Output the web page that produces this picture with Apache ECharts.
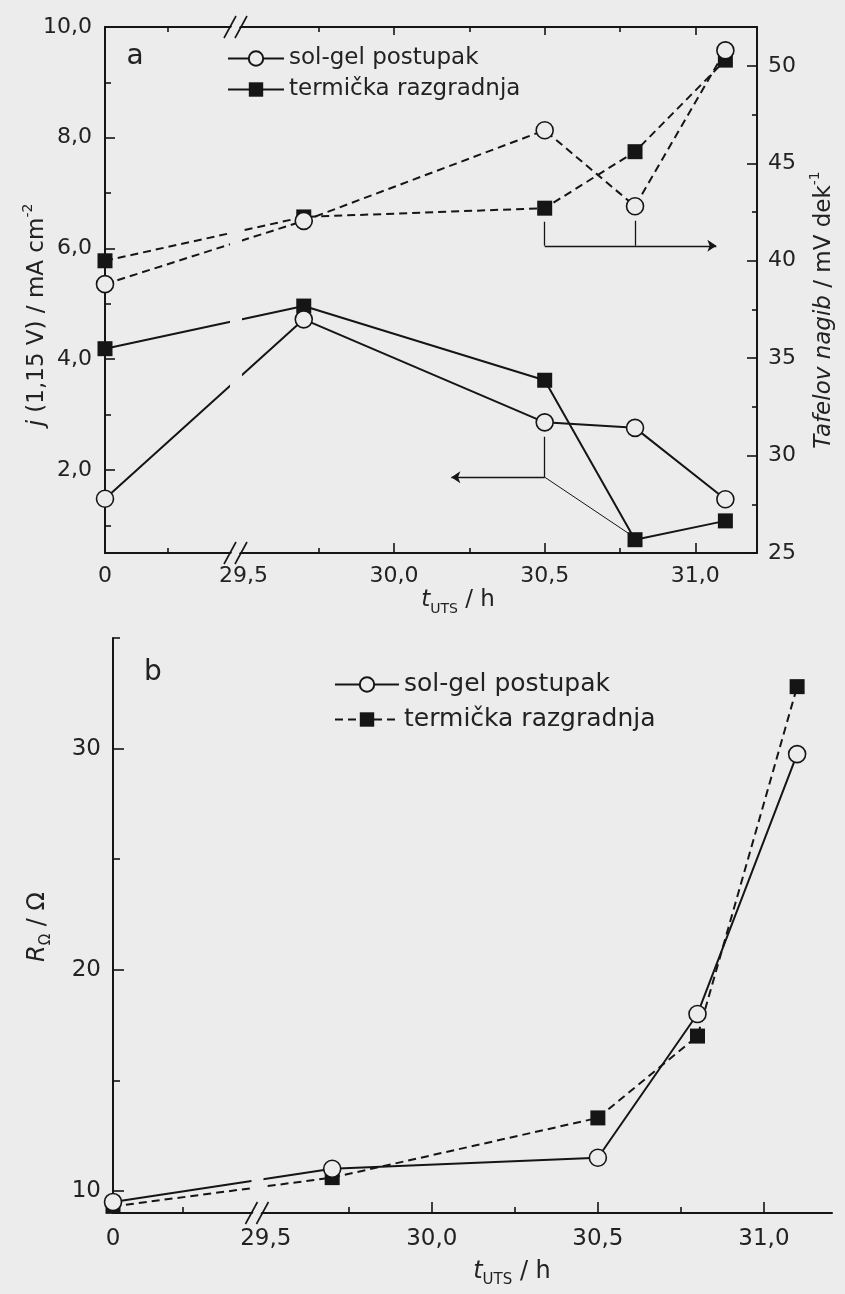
<!DOCTYPE html>
<html><head><meta charset="utf-8">
<script src="https://cdn.jsdelivr.net/npm/echarts@6/dist/echarts.min.js"></script>
<style>html,body{margin:0;padding:0;background:#ececec;}#c{width:845px;height:1294px;}</style>
</head><body><div id="c"></div>
<script>
// ---------------- data ----------------
const timeHours = [0, 29.7, 30.5, 30.8, 31.1];            // t_UTS / h (0 = before test)
const xLabelHours = [0, 29.5, 30.0, 30.5, 31.0];
const xTickLabels = ['0', '29,5', '30,0', '30,5', '31,0'];
const xMajorTicks = [30.0, 30.5, 31.0];
const xMinorTicks = [29.25, 29.75, 30.25, 30.75];

// panel a: current density j(1,15 V) / mA cm-2 (left axis)
const currentSolGel  = [1.48, 4.72, 2.86, 2.76, 1.47];
const currentThermal = [4.19, 4.96, 3.62, 0.74, 1.08];
// panel a: Tafel slope / mV dek-1 (right axis)
const tafelSolGel  = [38.8, 42.05, 46.7, 42.8, 50.8];
const tafelThermal = [40.0, 42.25, 42.7, 45.6, 50.3];
// panel b: ohmic resistance R_Omega / Ohm
const resistSolGel  = [9.5, 11.0, 11.5, 18.0, 29.75];
const resistThermal = [9.3, 10.6, 13.3, 17.0, 32.8];

const jMajorTicks = [2, 4, 6, 8, 10];
const jMinorTicks = [1, 3, 5, 7, 9];
const tafelMajorTicks = [25, 30, 35, 40, 45, 50];
const tafelMinorTicks = [27.5, 32.5, 37.5, 42.5, 47.5];
const rMajorTicks = [10, 20, 30];
const rMinorTicks = [15, 25, 35];

// annotation arrows (data space): [x1, y1, x2, y2]
const tafelGuideSegments = [[30.5, 42.0, 30.5, 40.77], [30.8, 42.05, 30.8, 40.77]];
const tafelGuideArrow    = [[30.5, 40.77, 31.07, 40.77]];
const currentGuideSegments = [[30.5, 2.6, 30.5, 1.87]];
const currentGuideThin     = [[30.5, 1.87, 30.785, 0.83]];
const currentGuideArrow    = [[30.5, 1.87, 30.19, 1.87]];

const legendNames = ['sol-gel postupak', 'termička razgradnja'];

// ---------------- scales / style ----------------
const ZERO_AXIS = 29.04;   // where t = 0 sits on the broken axis
const X_MAX = 31.205;
const BREAK_AT = 29.475;
const J_MIN = 0.5, J_MAX = 10;
const T_MIN = 25, T_MAX = 52.0;
const R_MIN = 9, R_MAX = 35;

const BG = '#ececec', INK = '#151515', TXT = '#222';
const FONT = '"DejaVu Sans", "Liberation Sans", sans-serif';

const toAxis = h => (h === 0 ? ZERO_AXIS : h);
const pts = ys => timeHours.map((h, i) => [toAxis(h), ys[i]]);
const xLabelPos = xLabelHours.map(toAxis);
const xFmt = v => { const i = xLabelPos.findIndex(p => Math.abs(p - v) < 1e-6); return i >= 0 ? xTickLabels[i] : ''; };

function axis(o) {
  return {
    type: 'value', gridIndex: o.grid, position: o.pos, min: o.min, max: o.max,
    splitLine: { show: false },
    axisLine: { show: !!o.line, onZero: false, lineStyle: { color: INK, width: 2 } },
    axisTick: { show: true, inside: true, length: o.len, customValues: o.ticks, lineStyle: { color: INK, width: 1.6 } },
    axisLabel: o.labels ? { show: true, customValues: o.labels, formatter: o.fmt, margin: o.margin,
      fontSize: o.fs, color: TXT, fontFamily: FONT } : { show: false },
    axisPointer: { show: false }
  };
}

const xAxes = [
  axis({ grid: 0, pos: 'bottom', min: ZERO_AXIS, max: X_MAX, line: true, len: 10, ticks: xMajorTicks, labels: xLabelPos, fmt: xFmt, margin: 12, fs: 22 }),
  axis({ grid: 0, pos: 'bottom', min: ZERO_AXIS, max: X_MAX, len: 5, ticks: xMinorTicks }),
  axis({ grid: 0, pos: 'top', min: ZERO_AXIS, max: X_MAX, line: true, len: 8, ticks: xMajorTicks }),
  axis({ grid: 0, pos: 'top', min: ZERO_AXIS, max: X_MAX, len: 5, ticks: xMinorTicks }),
  axis({ grid: 1, pos: 'bottom', min: ZERO_AXIS, max: X_MAX, line: true, len: 11, ticks: xMajorTicks, labels: xLabelPos, fmt: xFmt, margin: 15, fs: 23 }),
  axis({ grid: 1, pos: 'bottom', min: ZERO_AXIS, max: X_MAX, len: 6, ticks: xMinorTicks })
];
const yAxes = [
  axis({ grid: 0, pos: 'left', min: J_MIN, max: J_MAX, line: true, len: 10, ticks: jMajorTicks, labels: jMajorTicks, fmt: v => v.toFixed(1).replace('.', ','), margin: 13, fs: 22 }),
  axis({ grid: 0, pos: 'left', min: J_MIN, max: J_MAX, len: 6, ticks: jMinorTicks }),
  axis({ grid: 0, pos: 'right', min: T_MIN, max: T_MAX, line: true, len: 10, ticks: tafelMajorTicks, labels: tafelMajorTicks, fmt: v => String(v), margin: 11, fs: 22 }),
  axis({ grid: 0, pos: 'right', min: T_MIN, max: T_MAX, len: 5, ticks: tafelMinorTicks }),
  axis({ grid: 1, pos: 'left', min: R_MIN, max: R_MAX, line: true, len: 11, ticks: rMajorTicks, labels: rMajorTicks, fmt: v => String(v), margin: 12, fs: 23 }),
  axis({ grid: 1, pos: 'left', min: R_MIN, max: R_MAX, len: 7, ticks: rMinorTicks })
];

function lineSeries(name, ys, xi, yi, dashed, circle) {
  return {
    type: 'line', name: name, xAxisIndex: xi, yAxisIndex: yi, data: pts(ys),
    symbol: circle ? 'circle' : 'rect', symbolSize: circle ? 17 : 15, showSymbol: true,
    itemStyle: circle ? { color: BG, borderColor: INK, borderWidth: 1.6 } : { color: INK, borderWidth: 0 },
    lineStyle: { color: INK, width: 2, type: dashed ? [8, 5] : 'solid' },
    clip: false, silent: true, animation: false, z: 2
  };
}
function guide(segs, xi, yi, arrow, width) {
  return {
    type: 'lines', coordinateSystem: 'cartesian2d', xAxisIndex: xi, yAxisIndex: yi,
    symbol: arrow ? ['none', 'arrow'] : ['none', 'none'], symbolSize: 9,
    lineStyle: { color: INK, width: width, opacity: 1, curveness: 0 },
    data: segs.map(s => ({ coords: [[s[0], s[1]], [s[2], s[3]]] })), silent: true, animation: false, z: 1
  };
}
// blank band across the plot at the axis break (lines are interrupted there)
function breakGap(xi, yi, yMin, yMax) {
  return {
    type: 'custom', coordinateSystem: 'cartesian2d', xAxisIndex: xi, yAxisIndex: yi,
    data: [[BREAK_AT, yMin]], silent: true, animation: false, z: 3, clip: false,
    renderItem: function (params, api) {
      const p0 = api.coord([BREAK_AT, yMin]);
      const p1 = api.coord([BREAK_AT, yMax]);
      return { type: 'rect', shape: { x: p0[0] - 6, y: p1[1] + 3, width: 12, height: p0[1] - p1[1] - 6 },
        style: { fill: BG, stroke: null } };
    }
  };
}

const option = {
  backgroundColor: BG,
  animation: false,
  textStyle: { fontFamily: FONT },
  grid: [
    { left: 105, top: 27, width: 652, height: 526, containLabel: false },
    { left: 113, top: 638, width: 719, height: 575, containLabel: false }
  ],
  xAxis: xAxes,
  yAxis: yAxes,
  legend: [
    { data: legendNames, orient: 'vertical', left: 227, top: 47, padding: 0, itemWidth: 56, itemHeight: 18, itemGap: 8,
      selectedMode: false, textStyle: { fontSize: 23, color: TXT, fontFamily: FONT, lineHeight: 22 } },
    { data: legendNames.map(n => n + ' (b)'), orient: 'vertical', left: 334, top: 672, padding: 0, itemWidth: 64, itemHeight: 18, itemGap: 10,
      selectedMode: false, formatter: n => n.replace(' (b)', ''),
      textStyle: { fontSize: 25, color: TXT, fontFamily: FONT, lineHeight: 25 } }
  ],
  series: [
    lineSeries('termička razgradnja', currentThermal, 0, 0, false, false),
    lineSeries('sol-gel postupak', currentSolGel, 0, 0, false, true),
    lineSeries('termička razgradnja', tafelThermal, 0, 2, true, false),
    lineSeries('sol-gel postupak', tafelSolGel, 0, 2, true, true),
    lineSeries('termička razgradnja (b)', resistThermal, 4, 4, true, false),
    lineSeries('sol-gel postupak (b)', resistSolGel, 4, 4, false, true),
    guide(tafelGuideSegments, 0, 2, false, 1.3),
    guide(tafelGuideArrow, 0, 2, true, 1.3),
    guide(currentGuideSegments, 0, 0, false, 1.3),
    guide(currentGuideThin, 0, 0, false, 1),
    guide(currentGuideArrow, 0, 0, true, 1.3),
    breakGap(0, 0, J_MIN, J_MAX),
    breakGap(4, 4, R_MIN, R_MAX)
  ]
};

const chart = echarts.init(document.getElementById('c'), null, { renderer: 'canvas' });
chart.setOption(option);

// ---------- decorations: axis breaks, titles ----------
function rich(fs) {
  const sm = Math.round(fs * 0.62);
  return {
    n: { fontSize: fs, fontFamily: FONT, lineHeight: 32, fill: TXT },
    i: { fontSize: fs, fontFamily: FONT, fontStyle: 'italic', lineHeight: 32, fill: TXT },
    sup: { fontSize: sm, fontFamily: FONT, lineHeight: 16, verticalAlign: 'top', fill: TXT },
    sub: { fontSize: sm, fontFamily: FONT, lineHeight: 16, verticalAlign: 'bottom', fill: TXT }
  };
}
function title(text, x, y, fs, rot) {
  return { type: 'text', x: x, y: y, rotation: rot || 0, z: 10, silent: true,
    style: { text: text, rich: rich(fs), fontSize: fs, fontFamily: FONT, fill: TXT,
      align: 'center', verticalAlign: 'middle', textAlign: 'center', textVerticalAlign: 'middle' } };
}
function breakMark(cx, cy) {
  const s1b = [cx - 12, cy + 11], s1t = [cx, cy - 11], s2b = [cx - 1, cy + 11], s2t = [cx + 11, cy - 11];
  return { type: 'group', z: 8, silent: true, children: [
    { type: 'polygon', z: 8, shape: { points: [[s1b[0] + 1.5, s1b[1]], [s1t[0] + 1.5, s1t[1]], [s2t[0] - 1.5, s2t[1]], [s2b[0] - 1.5, s2b[1]]] }, style: { fill: BG } },
    { type: 'line', z: 9, shape: { x1: s1b[0], y1: s1b[1], x2: s1t[0], y2: s1t[1] }, style: { stroke: INK, lineWidth: 1.6 } },
    { type: 'line', z: 9, shape: { x1: s2b[0], y1: s2b[1], x2: s2t[0], y2: s2t[1] }, style: { stroke: INK, lineWidth: 1.6 } }
  ] };
}

const bxA = chart.convertToPixel({ xAxisIndex: 0 }, BREAK_AT);
const aBottom = chart.convertToPixel({ yAxisIndex: 0 }, J_MIN);
const aTop = chart.convertToPixel({ yAxisIndex: 0 }, J_MAX);
const bxB = chart.convertToPixel({ xAxisIndex: 4 }, BREAK_AT);
const bBottom = chart.convertToPixel({ yAxisIndex: 4 }, R_MIN);

chart.setOption({ graphic: [
  breakMark(bxA, aBottom),
  breakMark(bxA, aTop),
  breakMark(bxB, bBottom),
  title('{i|j}{n| (1,15 V) / mA cm}{sup|-2}', 37, 315, 23, Math.PI / 2),
  title('{i|Tafelov nagib}{n| / mV dek}{sup|-1}', 824, 310, 23, Math.PI / 2),
  title('{i|t}{sub|UTS}{n| / h}', 458, 600, 23, 0),
  title('{i|R}{sub|Ω}{n| / Ω}', 38, 927, 24, Math.PI / 2),
  title('{i|t}{sub|UTS}{n| / h}', 512, 1272, 24, 0),
  title('{n|a}', 135, 57, 28, 0),
  title('{n|b}', 153, 673, 28, 0)
] });
</script>
</body></html>
